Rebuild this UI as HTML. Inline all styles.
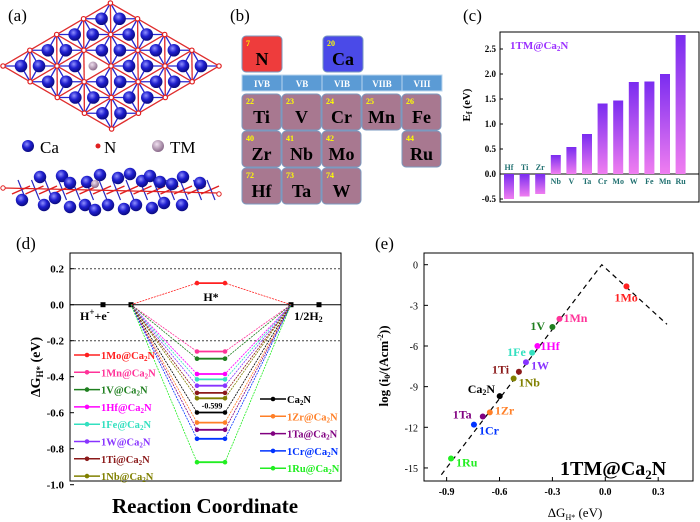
<!DOCTYPE html>
<html><head><meta charset="utf-8">
<style>
html,body{margin:0;padding:0;background:#fff;}
svg{display:block;font-family:"Liberation Serif",serif;}
.b{font-weight:bold;}
</style></head>
<body>
<svg id="fig" width="700" height="522" viewBox="0 0 700 522" xmlns="http://www.w3.org/2000/svg">
<defs>
<radialGradient id="ball" cx="0.4" cy="0.35" r="0.65"><stop offset="0" stop-color="#9090ff"/><stop offset="0.5" stop-color="#2020d0"/><stop offset="1" stop-color="#0a0a80"/></radialGradient>
<radialGradient id="tm" cx="0.4" cy="0.35" r="0.65"><stop offset="0" stop-color="#f0e0f0"/><stop offset="1" stop-color="#8a6a8a"/></radialGradient>
<linearGradient id="bar" x1="0" y1="0" x2="0" y2="1"><stop offset="0" stop-color="#7a2cf0"/><stop offset="1" stop-color="#f07ef0"/></linearGradient>
</defs>

<g id="pa">
<text x="8" y="21" font-size="17">(a)</text>
<g id="topview"></g>
<circle cx="28" cy="146" r="6" fill="url(#ball)"/>
<text x="40" y="153" font-size="17">Ca</text>
<circle cx="98" cy="146" r="2.5" fill="#e02020"/>
<text x="104" y="153" font-size="17">N</text>
<circle cx="158" cy="146" r="6" fill="url(#tm)"/>
<text x="170" y="153" font-size="17">TM</text>
<g id="sideview"></g>
</g>

<g id="pb">
<text x="230" y="21" font-size="17">(b)</text>
</g>

<g id="pc">
<text x="463" y="21" font-size="17">(c)</text>
<rect x="500" y="32" width="199" height="170" fill="none" stroke="#000" stroke-width="1"/>
<text x="510" y="49" font-size="11" class="b" fill="#9b30ff">1TM@Ca<tspan font-size="7" dy="2">2</tspan><tspan dy="-2">N</tspan></text>
<text transform="translate(470,105) rotate(-90)" font-size="11" class="b" text-anchor="middle">E<tspan font-size="8" dy="2">f</tspan><tspan dy="-2"> (eV)</tspan></text>
</g>

<g id="pd">
<text x="16" y="249" font-size="17">(d)</text>
<rect x="70" y="253" width="271" height="228" fill="none" stroke="#000" stroke-width="1"/>
<text transform="translate(40,367) rotate(-90)" font-size="14" class="b" text-anchor="middle">ΔG<tspan font-size="9" dy="3">H*</tspan><tspan dy="-3"> (eV)</tspan></text>
<text x="205" y="513" font-size="21" class="b" text-anchor="middle">Reaction Coordinate</text>
<text x="211" y="301" font-size="12" class="b" text-anchor="middle">H*</text>
<text x="80" y="320" font-size="12" class="b">H<tspan font-size="9" dy="-5">+</tspan><tspan dy="5">+e</tspan><tspan font-size="9" dy="-5">-</tspan></text>
<text x="294" y="320" font-size="12" class="b">1/2H<tspan font-size="8" dy="2">2</tspan></text>
</g>

<g id="pe">
<text x="375" y="249" font-size="17">(e)</text>
<rect x="424" y="253" width="269" height="228" fill="none" stroke="#000" stroke-width="1"/>
<text transform="translate(388,366) rotate(-90)" font-size="13" class="b" text-anchor="middle">log (i<tspan font-size="8" dy="2">0</tspan><tspan dy="-2">/(Acm</tspan><tspan font-size="8" dy="-5">-2</tspan><tspan dy="5">))</tspan></text>
<text x="575" y="517" font-size="13" text-anchor="middle">ΔG<tspan font-size="8" dy="3">H*</tspan><tspan dy="-3"> (eV)</tspan></text>
<text x="560" y="475" font-size="20" class="b">1TM@Ca<tspan font-size="13" dy="4">2</tspan><tspan dy="-4">N</tspan></text>
</g>
</svg>
<script>
const NS='http://www.w3.org/2000/svg';
function mk(parent,tag,attrs,text){const e=document.createElementNS(NS,tag);for(const k in attrs)e.setAttribute(k,attrs[k]);if(text!==undefined)e.textContent=text;parent.appendChild(e);return e;}

const cCats=['Hf','Ti','Zr','Nb','V','Ta','Cr','Mo','W','Fe','Mn','Ru'];
const cVals=[-0.50,-0.45,-0.40,0.38,0.54,0.80,1.41,1.47,1.84,1.85,2.00,2.78];
const cTicks=[-0.5,0.0,0.5,1.0,1.5,2.0,2.5];

const dNames=['1Mo','1Mn','1V','1Hf','1Fe','1W','1Ti','1Nb','Ca2N','1Zr','1Ta','1Cr','1Ru'];
const dVals=[0.12,-0.26,-0.30,-0.385,-0.415,-0.45,-0.49,-0.52,-0.599,-0.655,-0.695,-0.745,-0.875];
const dColors=['#ff2020','#ff3399','#1f7f1f','#ff00ff','#33e0c0','#8833ff','#8b1a1a','#808000','#000000','#ff7f27','#800080','#0033ff','#22ee22'];
const dTicks=[0.2,0.0,-0.2,-0.4,-0.6,-0.8,-1.0];

const eNames=['1Mo','1Mn','1V','1Hf','1Fe','1W','1Ti','1Nb','Ca2N','1Zr','1Ta','1Cr','1Ru'];
const eX=[0.12,-0.26,-0.30,-0.385,-0.415,-0.45,-0.49,-0.52,-0.599,-0.655,-0.695,-0.745,-0.875];
const eY=[-1.6,-4.0,-4.6,-6.0,-6.5,-7.2,-7.9,-8.4,-9.7,-10.9,-11.2,-11.8,-14.3];
const eXTicks=[-0.9,-0.6,-0.3,0.0,0.3];
const eYTicks=[0,-3,-6,-9,-12,-15];
const volcX=[-0.93,-0.02,0.35];
const volcY=[-15.5,0,-4.4];

(function(){
 const g=document.getElementById('topview');
 const L=[3,66],e1=[8.95,-5.25],e2=[9.05,5.25];
 const P=(i,j)=>[L[0]+i*e1[0]+j*e2[0],L[1]+i*e1[1]+j*e2[1]];
 const N=[],Ca=[];
 for(let i=0;i<=12;i++)for(let j=0;j<=12;j++){
  if(i%3===0&&j%3===0)N.push(P(i,j));
  else if(((i-j)%3+3)%3===0&&i>0&&j>0&&i<12&&j<12&&!(i===5&&j===5))Ca.push(P(i,j));
 }
 Ca.forEach(p=>N.forEach(q=>{const d=Math.hypot(p[0]-q[0],p[1]-q[1]);if(d<22){const l=mk(g,'line',{x1:p[0],y1:p[1],x2:q[0],y2:q[1],stroke:'#2828d0','stroke-width':1.3});}}));
 N.forEach(p=>N.forEach(q=>{const d=Math.hypot(p[0]-q[0],p[1]-q[1]);if(d<33&&d>1){const l=mk(g,'line',{x1:p[0],y1:p[1],x2:q[0],y2:q[1],stroke:'#e03030','stroke-width':1.2});}}));
 N.forEach(p=>{const c=mk(g,'circle',{cx:p[0],cy:p[1],r:2.2,fill:'#fff',stroke:'#e02020','stroke-width':1.2});});
 Ca.forEach(p=>{const c=mk(g,'circle',{cx:p[0],cy:p[1],r:6.3,fill:'url(#ball)'});});
 const tp=P(5,5);const t=mk(g,'circle',{cx:tp[0],cy:tp[1],r:4.5,fill:'url(#tm)'});
 const s=document.getElementById('sideview');
 for(let i=0;i<15;i++){const x=12+i*13.5;const l=mk(s,'line',{x1:x,y1:194,x2:x+18,y2:186,stroke:'#e02020','stroke-width':1.5});
  const l3=mk(s,'line',{x1:x+6,y1:180,x2:x+14,y2:200,stroke:'#2828c0','stroke-width':1.2});}
 const l2=mk(s,'line',{x1:4,y1:188,x2:218,y2:193,stroke:'#e02020','stroke-width':1.2});
 const top=[[40,177],[62,176],[70,183],[87,182],[100,175],[118,178],[130,174],[142,181],[150,176],[160,182],[172,184],[183,177],[200,183]];
 const bot=[[22,200],[44,205],[55,198],[70,207],[85,205],[95,210],[108,205],[124,209],[136,205],[152,208],[164,203],[182,205]];
 top.concat(bot).forEach(p=>{const c=mk(s,'circle',{cx:p[0],cy:p[1],r:6.2,fill:'url(#ball)'});});
 [[3,188],[219,194]].forEach(p=>{const c=mk(s,'circle',{cx:p[0],cy:p[1],r:2.2,fill:'#fff',stroke:'#e02020'});});
 const tt=mk(s,'circle',{cx:95,cy:184,r:4,fill:'url(#tm)'});
})();

(function(){
 const g=document.getElementById('pb');
 function cell(x,y,w,hh,fill,num,sym,name){
  const r=mk(g,'rect',{x:x,y:y,width:w,height:hh,rx:4,fill:fill,stroke:'#7a9ac0','stroke-width':1});
  const n=mk(g,'text',{x:x+4,y:y+10,'font-size':8,fill:'#ffff00',class:'b'},num);
  const s=mk(g,'text',{x:x+w/2,y:y+hh-7,'font-size':18,class:'b','text-anchor':'middle'},sym);
 }
 cell(242,36,40,36,'#ee3c3c','7','N','n');
 cell(323,36,40,36,'#4a4ae8','20','Ca','ca');
 const hdr=['IVB','VB','VIB','VIIB','VIII'];
 hdr.forEach((h,i)=>{const r=mk(g,'rect',{x:242+i*40,y:75,width:40,height:16,fill:'#5b9bd5',stroke:'#b8d4ee','stroke-width':1});
  const t=mk(g,'text',{x:262+i*40,y:87,'font-size':9,class:'b',fill:'#fff','text-anchor':'middle'},h);});
 const els=[[0,0,'22','Ti'],[1,0,'23','V'],[2,0,'24','Cr'],[3,0,'25','Mn'],[4,0,'26','Fe'],[0,1,'40','Zr'],[1,1,'41','Nb'],[2,1,'42','Mo'],[4,1,'44','Ru'],[0,2,'72','Hf'],[1,2,'73','Ta'],[2,2,'74','W']];
 els.forEach(e=>cell(242+e[0]*40,94+e[1]*37,39,36,'#a87890',e[2],e[3],e[3].toLowerCase()));
})();

(function(){
 const g=document.getElementById('pc');
 const y=v=>174-50*v; const x=i=>509+i*15.6;
 mk(g,'line',{x1:500,y1:y(0),x2:699,y2:y(0),stroke:'#000','stroke-width':1});
 cTicks.forEach(t=>{const l=mk(g,'line',{x1:500,y1:y(t),x2:503,y2:y(t),stroke:'#000'});
  const tx=mk(g,'text',{x:496,y:y(t)+3,'font-size':9,class:'b','text-anchor':'end'},t.toFixed(1));});
 cVals.forEach((v,i)=>{const top=Math.min(y(v),y(0)),hh=Math.abs(y(v)-y(0));
  const r=mk(g,'rect',{x:x(i)-5,y:top,width:10,height:hh,fill:'url(#bar)'});
  const ly=v<0?y(0)-4:y(0)+10;
  const t=mk(g,'text',{x:x(i),y:ly,'font-size':8,class:'b',fill:'#207070','text-anchor':'middle'},cCats[i]);});
})();

(function(){
 const g=document.getElementById('pd');
 const y=v=>304.7-180*v;
 const X=[103,131,197,225,291,319];
 [0.2,-0.2].forEach(v=>{const l=mk(g,'line',{x1:70,y1:y(v),x2:341,y2:y(v),stroke:'#444','stroke-dasharray':'2,2'});});
 const z=mk(g,'line',{x1:70,y1:y(0),x2:341,y2:y(0),stroke:'#000','stroke-width':1});
 [X[0],X[1],X[4],X[5]].forEach(xx=>{const m=mk(g,'rect',{x:xx-2.5,y:y(0)-2.5,width:5,height:5,fill:'#000'});});
 dTicks.forEach(t=>{const l=mk(g,'line',{x1:70,y1:y(t),x2:74,y2:y(t),stroke:'#000'});
  const tx=mk(g,'text',{x:64,y:y(t)+4,'font-size':11,class:'b','text-anchor':'end'},t.toFixed(1));});
 dVals.forEach((v,i)=>{const c=dColors[i];
  const p=mk(g,'polyline',{points:`${X[1]},${y(0)} ${X[2]},${y(v)} ${X[3]},${y(v)} ${X[4]},${y(0)}`,fill:'none',stroke:c,'stroke-width':0.8,'stroke-dasharray':'2,1'});
  const s=mk(g,'line',{x1:X[2],y1:y(v),x2:X[3],y2:y(v),stroke:c,'stroke-width':1.8});
  [X[2],X[3]].forEach(xx=>{const m=mk(g,'circle',{cx:xx,cy:y(v),r:2.3,fill:c});});
 });
 const lab=mk(g,'text',{x:212,y:y(-0.599)-4,'font-size':8,class:'b','text-anchor':'middle'},'-0.599');
 const left=[0,1,2,3,4,5,6,7], right=[8,9,10,11,12];
 left.forEach((k,j)=>{legend(74,355+j*17.3,k);});
 right.forEach((k,j)=>{legend(260,399+j*17.3,k);});
 function legend(x0,yy,k){const c=dColors[k];
  const l=mk(g,'line',{x1:x0,y1:yy,x2:x0+26,y2:yy,stroke:c,'stroke-width':1.5});
  const m=mk(g,'circle',{cx:x0+13,cy:yy,r:2.3,fill:c});
  const nm=dNames[k]==='Ca2N'?'Ca':dNames[k]+'@Ca';
  const t=mk(g,'text',{x:x0+27,y:yy+4,'font-size':10.5,class:'b',fill:c});
  t.textContent=nm; mk(t,'tspan',{'font-size':7,dy:2},'2'); mk(t,'tspan',{dy:-2},'N');
 }
})();

(function(){
 const g=document.getElementById('pe');
 const x=v=>605.3+176.3*v, y=v=>264.7-13.55*v;
 eXTicks.forEach(t=>{const l=mk(g,'line',{x1:x(t),y1:481,x2:x(t),y2:477,stroke:'#000'});
  const tx=mk(g,'text',{x:x(t),y:495,'font-size':10,class:'b','text-anchor':'middle'},t.toFixed(1));});
 eYTicks.forEach(t=>{const l=mk(g,'line',{x1:424,y1:y(t),x2:428,y2:y(t),stroke:'#000'});
  const tx=mk(g,'text',{x:418,y:y(t)+4,'font-size':10,'text-anchor':'end'},String(t));});
 const v=mk(g,'polyline',{points:volcX.map((a,i)=>x(a)+','+y(volcY[i])).join(' '),fill:'none',stroke:'#000','stroke-width':1.2,'stroke-dasharray':'5,4'});
 const off={'1Mo':[-12,15],'1Mn':[4,3],'1V':[-22,3],'1Hf':[3,4],'1Fe':[-25,3],'1W':[5,7],'1Ti':[-27,2],'1Nb':[5,8],'Ca2N':[-32,-3],'1Zr':[5,2],'1Ta':[-30,2],'1Cr':[5,10],'1Ru':[5,8]};
 eX.forEach((a,i)=>{const c=dColors[i],n=eNames[i];
  const m=mk(g,'circle',{cx:x(a),cy:y(eY[i]),r:3,fill:c});
  const o=off[n];const t=mk(g,'text',{x:x(a)+o[0],y:y(eY[i])+o[1],'font-size':12,class:'b',fill:c});
  if(n==='Ca2N'){t.textContent='Ca';mk(t,'tspan',{'font-size':8,dy:2},'2');mk(t,'tspan',{dy:-2},'N');}else t.textContent=n;});
})();
</script>
</body></html>
